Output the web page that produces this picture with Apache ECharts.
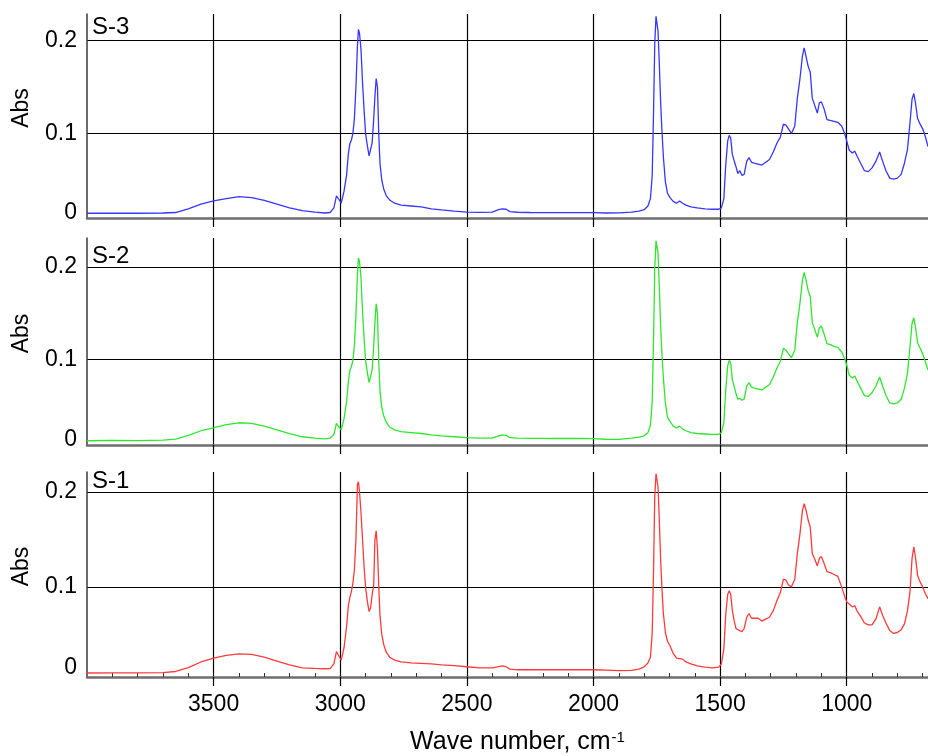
<!DOCTYPE html>
<html><head><meta charset="utf-8">
<script src="https://cdn.jsdelivr.net/npm/echarts@6/dist/echarts.min.js"></script>
<style>html,body{margin:0;padding:0;background:#fff}#c{width:928px;height:756px}</style>
</head><body><div id="c"></div>
<script>
// Wave numbers (cm-1), shared by the three spectra
const waveNumbers = [
  4000, 3900, 3800, 3700, 3650, 3600, 3550, 3500, 3450, 3400,
  3350, 3300, 3250, 3200, 3150, 3100, 3060, 3040, 3025, 3015,
  3005, 2996, 2985, 2975, 2968, 2962, 2956, 2950, 2944, 2938,
  2932, 2928, 2924, 2918, 2912, 2906, 2900, 2893, 2886, 2880,
  2874, 2868, 2863, 2858, 2853, 2848, 2843, 2836, 2828, 2818,
  2805, 2785, 2760, 2720, 2680, 2640, 2600, 2550, 2500, 2450,
  2400, 2375, 2360, 2345, 2330, 2300, 2250, 2200, 2150, 2100,
  2050, 2000, 1950, 1900, 1850, 1820, 1800, 1785, 1775, 1768,
  1763, 1758, 1753, 1749, 1745, 1740, 1735, 1730, 1724, 1716,
  1708, 1698, 1685, 1672, 1660, 1648, 1635, 1615, 1590, 1560,
  1530, 1505, 1495, 1485, 1478, 1470, 1464, 1458, 1452, 1445,
  1437, 1430, 1422, 1414, 1405, 1395, 1386, 1376, 1365, 1350,
  1335, 1320, 1305, 1290, 1275, 1262, 1250, 1240, 1230, 1218,
  1205, 1195, 1185, 1175, 1168, 1160, 1152, 1144, 1136, 1126,
  1116, 1108, 1100, 1090, 1078, 1065, 1050, 1035, 1020, 1008,
  1000, 990, 978, 968, 958, 945, 930, 915, 900, 885,
  870, 858, 845, 830, 815, 800, 785, 772, 760, 750,
  742, 735, 728, 720, 710, 700, 690, 679
];
const absS3 = [
  0.0142, 0.0143, 0.0142, 0.0145, 0.015, 0.019, 0.024, 0.0275, 0.030, 0.032,
  0.031, 0.028, 0.024, 0.020, 0.017, 0.0155, 0.0145, 0.015, 0.020, 0.033,
  0.029, 0.025, 0.038, 0.055, 0.078, 0.089, 0.093, 0.100, 0.116, 0.150,
  0.195, 0.212, 0.208, 0.190, 0.155, 0.126, 0.100, 0.087, 0.076, 0.078,
  0.090, 0.115, 0.140, 0.159, 0.150, 0.100, 0.068, 0.050, 0.040, 0.033,
  0.0285, 0.025, 0.023, 0.022, 0.021, 0.019, 0.0178, 0.0165, 0.0155, 0.0152,
  0.0155, 0.018, 0.019, 0.0185, 0.016, 0.0153, 0.015, 0.0148, 0.0148, 0.0148,
  0.0148, 0.0148, 0.0145, 0.0147, 0.0155, 0.0165, 0.018, 0.022, 0.030, 0.055,
  0.12, 0.197, 0.226, 0.225, 0.21, 0.175, 0.135, 0.105, 0.075, 0.048,
  0.036, 0.031, 0.027, 0.025, 0.0275, 0.025, 0.023, 0.021, 0.020, 0.019,
  0.0185, 0.0185, 0.020, 0.030, 0.065, 0.092, 0.098, 0.095, 0.078, 0.071,
  0.064, 0.057, 0.060, 0.055, 0.056, 0.070, 0.074, 0.069, 0.068, 0.067,
  0.066, 0.069, 0.072, 0.080, 0.090, 0.096, 0.110, 0.109, 0.105, 0.100,
  0.108, 0.138, 0.158, 0.183, 0.192, 0.182, 0.172, 0.166, 0.138, 0.130,
  0.122, 0.133, 0.134, 0.127, 0.115, 0.114, 0.113, 0.112, 0.108, 0.100,
  0.092, 0.082, 0.079, 0.081, 0.075, 0.068, 0.060, 0.059, 0.063, 0.070,
  0.080, 0.070, 0.060, 0.052, 0.051, 0.052, 0.056, 0.068, 0.083, 0.112,
  0.137, 0.143, 0.132, 0.116, 0.110, 0.105, 0.097, 0.086
];
const absS2 = [
  0.0122, 0.0125, 0.0124, 0.0128, 0.014, 0.018, 0.023, 0.026, 0.0295, 0.0316,
  0.031, 0.028, 0.024, 0.020, 0.0165, 0.015, 0.0142, 0.015, 0.019, 0.031,
  0.027, 0.024, 0.036, 0.054, 0.076, 0.088, 0.092, 0.099, 0.115, 0.148,
  0.192, 0.2095, 0.206, 0.188, 0.152, 0.124, 0.099, 0.086, 0.075, 0.077,
  0.089, 0.114, 0.140, 0.160, 0.150, 0.098, 0.066, 0.048, 0.039, 0.032,
  0.027, 0.024, 0.022, 0.021, 0.020, 0.0185, 0.0175, 0.0165, 0.0155, 0.015,
  0.015, 0.0175, 0.0185, 0.018, 0.0155, 0.015, 0.0148, 0.0147, 0.0146, 0.0146,
  0.0146, 0.0145, 0.0138, 0.0137, 0.015, 0.0162, 0.0175, 0.021, 0.029, 0.055,
  0.12, 0.198, 0.228, 0.230, 0.215, 0.178, 0.138, 0.108, 0.08, 0.053,
  0.038, 0.033, 0.028, 0.026, 0.028, 0.025, 0.023, 0.021, 0.020, 0.0195,
  0.019, 0.019, 0.021, 0.032, 0.066, 0.093, 0.099, 0.096, 0.079, 0.071,
  0.063, 0.057, 0.058, 0.056, 0.057, 0.071, 0.075, 0.070, 0.069, 0.068,
  0.067, 0.070, 0.073, 0.081, 0.091, 0.098, 0.112, 0.110, 0.106, 0.102,
  0.110, 0.140, 0.160, 0.185, 0.194, 0.185, 0.174, 0.168, 0.140, 0.132,
  0.124, 0.134, 0.136, 0.128, 0.117, 0.116, 0.114, 0.113, 0.108, 0.101,
  0.094, 0.083, 0.080, 0.082, 0.076, 0.069, 0.061, 0.060, 0.064, 0.071,
  0.081, 0.071, 0.061, 0.053, 0.052, 0.053, 0.057, 0.069, 0.085, 0.114,
  0.139, 0.145, 0.134, 0.118, 0.112, 0.106, 0.098, 0.0885
];
const absS1 = [
  0.0094, 0.0095, 0.0095, 0.0098, 0.011, 0.015, 0.021, 0.025, 0.028, 0.0295,
  0.029, 0.026, 0.022, 0.018, 0.0148, 0.0142, 0.0139, 0.014, 0.019, 0.032,
  0.027, 0.023, 0.036, 0.058, 0.080, 0.089, 0.095, 0.104, 0.118, 0.150,
  0.208, 0.2105, 0.200, 0.178, 0.150, 0.122, 0.100, 0.085, 0.074, 0.078,
  0.092, 0.101, 0.150, 0.159, 0.140, 0.101, 0.070, 0.050, 0.039, 0.031,
  0.026, 0.023, 0.021, 0.020, 0.0195, 0.019, 0.018, 0.0172, 0.016, 0.0148,
  0.0148, 0.0162, 0.0168, 0.016, 0.0135, 0.0128, 0.0128, 0.0128, 0.0128, 0.0128,
  0.0128, 0.0128, 0.0125, 0.012, 0.0122, 0.0135, 0.0158, 0.020, 0.026, 0.052,
  0.115, 0.195, 0.219, 0.217, 0.205, 0.170, 0.130, 0.100, 0.072, 0.052,
  0.043, 0.038, 0.030, 0.025, 0.0245, 0.024, 0.021, 0.019, 0.017, 0.0155,
  0.0148, 0.0155, 0.019, 0.035, 0.070, 0.092, 0.096, 0.092, 0.076, 0.065,
  0.056, 0.056, 0.054, 0.053, 0.056, 0.068, 0.072, 0.067, 0.067, 0.067,
  0.064, 0.066, 0.068, 0.075, 0.086, 0.094, 0.108, 0.107, 0.102, 0.100,
  0.108, 0.135, 0.155, 0.180, 0.1875, 0.180, 0.170, 0.163, 0.135, 0.129,
  0.122, 0.130, 0.132, 0.125, 0.116, 0.115, 0.113, 0.111, 0.100, 0.090,
  0.084, 0.082, 0.079, 0.080, 0.074, 0.069, 0.062, 0.060, 0.060, 0.066,
  0.079, 0.070, 0.062, 0.054, 0.051, 0.052, 0.055, 0.061, 0.075, 0.095,
  0.130, 0.142, 0.130, 0.112, 0.105, 0.100, 0.093, 0.0875
];
const sampleNames = ['S-3', 'S-2', 'S-1'];
const xTickValues = [3500, 3000, 2500, 2000, 1500, 1000];
const yGridValues = [0.1, 0.2];
const xRange = [679, 4000];
const minorXTicks = [];
for (let w = 700; w <= 3900; w += 100) { if (w % 500 !== 0) minorXTicks.push(w); }

// layout / style (not data)
const panels = [
  { top: 14, height: 204, ymin: 0.0091, ymax: 0.2285, zeroShift: 10, nameTop: 15, color: '#3636ff', data: absS3 },
  { top: 238, height: 207, ymin: 0.0076, ymax: 0.2311, zeroShift: 10, nameTop: 244, color: '#2ee62e', data: absS2 },
  { top: 472, height: 207, ymin: 0.0052, ymax: 0.2208, zeroShift: 18, nameTop: 469, color: '#ff3a3a', data: absS1 }
];
const FONT = 'Liberation Sans, Arial, sans-serif';

const chart = echarts.init(document.getElementById('c'), null, { renderer: 'canvas' });

const grid = [], xAxis = [], yAxis = [], series = [], graphic = [];
panels.forEach((p, i) => {
  const last = i === panels.length - 1;
  grid.push({ left: 87, right: 0, top: p.top, height: p.height, containLabel: false });
  xAxis.push({
    type: 'value', gridIndex: i, inverse: true, min: xRange[0], max: xRange[1],
    axisLine: { show: true, onZero: false, lineStyle: { color: '#6e6e6e', width: 2.5 } },
    axisTick: { show: true, inside: false, length: 9, customValues: xTickValues, lineStyle: { color: '#000', width: 1.2 } },
    splitLine: { show: true, lineStyle: { color: '#000', width: 1.2 } },
    axisLabel: last ? { show: true, customValues: xTickValues, margin: 16, color: '#000', fontSize: 23, fontFamily: FONT, formatter: v => String(v) } : { show: false },
    name: last ? 'Wave number, cm{sup|-1}' : '',
    nameLocation: 'middle', nameGap: 53,
    nameTextStyle: {
      color: '#000', fontSize: 25, fontFamily: FONT, padding: [0, 0, 0, 20],
      rich: { sup: { fontSize: 15, fontFamily: FONT, color: '#000', verticalAlign: 'top', padding: [0, 0, 10, 1] } }
    }
  });
  yAxis.push({
    type: 'value', gridIndex: i, min: p.ymin, max: p.ymax,
    axisLine: { show: true, onZero: false, lineStyle: { color: '#3a3a3a', width: 1.5 } },
    axisTick: { show: false, customValues: yGridValues },
    splitLine: { show: true, lineStyle: { color: '#000', width: 1.2 } },
    axisLabel: {
      show: true, customValues: [p.ymin, 0.1, 0.2], margin: 10, color: '#000', fontSize: 23, fontFamily: FONT,
      formatter: v => (v < 0.05 ? '{z|0}' : String(Math.round(v * 10) / 10)),
      rich: { z: { fontSize: 23, fontFamily: FONT, color: '#000', padding: [0, 0, p.zeroShift, 0] } }
    },
    name: 'Abs', nameLocation: 'middle', nameGap: 54, nameRotate: 90,
    nameTextStyle: { color: '#000', fontSize: 23, fontFamily: FONT, padding: [0, 0, 0, 16] }
  });
  series.push({
    type: 'line', name: sampleNames[i], xAxisIndex: i, yAxisIndex: i,
    data: waveNumbers.map((w, k) => [w, p.data[k]]),
    showSymbol: false, symbol: 'none', clip: true, silent: true,
    lineStyle: { color: p.color, width: 1.3 }
  });
  graphic.push({
    type: 'text', left: 92, top: p.nameTop, silent: true,
    style: { text: sampleNames[i], fill: '#000', font: '24px ' + FONT }
  });
});

// minor ticks along the bottom axis of the lowest panel
xAxis.push({
  type: 'value', gridIndex: 2, inverse: true, min: xRange[0], max: xRange[1], position: 'bottom',
  axisLine: { show: false, onZero: false },
  axisTick: { show: true, inside: true, length: 4, customValues: minorXTicks, lineStyle: { color: '#333', width: 1 } },
  splitLine: { show: false }, axisLabel: { show: false }
});

chart.setOption({
  animation: false,
  backgroundColor: '#fff',
  grid, xAxis, yAxis, series, graphic
});
</script>
</body></html>
